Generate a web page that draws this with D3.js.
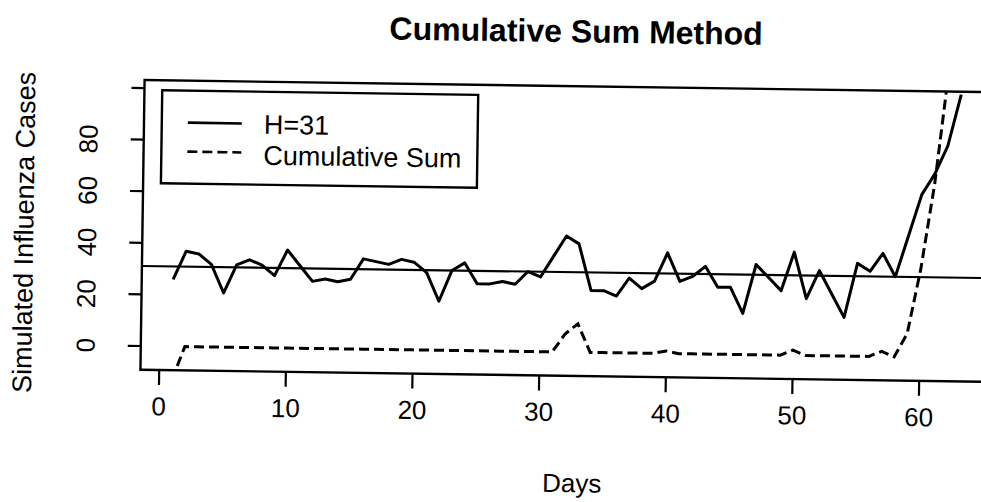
<!DOCTYPE html>
<html>
<head>
<meta charset="utf-8">
<script src="https://cdn.jsdelivr.net/npm/d3@7/dist/d3.min.js"></script>
<style>
body { margin: 0; background: #fff; }
svg { display: block; }
text { font-family: "Liberation Sans", Arial, Helvetica, sans-serif; fill: #000; }
</style>
</head>
<body>
<div id="chart"></div>
<script>
// values
var days = [1, 2, 3, 4, 5, 6, 7, 8, 9, 10, 11, 12, 13, 14, 15, 16, 17, 18, 19, 20,
            21, 22, 23, 24, 25, 26, 27, 28, 29, 30, 31, 32, 33, 34, 35, 36, 37, 38, 39, 40,
            41, 42, 43, 44, 45, 46, 47, 48, 49, 50, 51, 52, 53, 54, 55, 56, 57, 58, 59, 60,
            61, 62, 63];
var cases = [26, 37, 36, 32, 21, 32, 34, 32, 28, 38, 32, 26, 27, 26, 27, 35, 34, 33, 35, 34,
             30, 19, 31, 34, 26, 26, 27, 26, 31, 29, 37, 45, 42, 24, 24, 22, 29, 25, 28, 39,
             28, 30, 34, 26, 26, 16, 35, 30, 25, 40, 22, 33, 24, 15, 36, 33, 40, 31, 47, 63,
             71, 82, 102];
var cusum = [-13, 0, 0, 0, 0, 0, 0, 0, 0, 0, 0, 0, 0, 0, 0, 0, 0, 0, 0, 0,
             0, 0, 0, 0, 0, 0, 0, 0, 0, 0, 0, 7, 11, 0, 0, 0, 0, 0, 0, 1,
             0, 0, 0, 0, 0, 0, 0, 0, 0, 2, 0, 0, 0, 0, 0, 0, 2, 0, 9, 34,
             67, 111, 175];
var hLevel = 31;
var legendLabels = ["H=31", "Cumulative Sum"];
var xTicks = [0, 10, 20, 30, 40, 50, 60];
var yTicks = [0, 20, 40, 60, 80, 100];
var yTickLabels = ["0", "20", "40", "60", "80", ""];

var width = 981, height = 502;

var svg = d3.select("#chart")
    .append("svg")
        .attr("width", width)
        .attr("height", height);

// the scanned page sits slightly tilted
var page = svg.append("g")
    .attr("transform", "rotate(0.82,560,250)");

var x = d3.scaleLinear().domain([-1.48, 65.48]).range([142.2, 990.4]);
var y = d3.scaleLinear().domain([-9.2, 103.1]).range([375.7, 86]);

var plotLeft = x.range()[0], plotRight = x.range()[1];
var plotTop = y.range()[1], plotBottom = y.range()[0];

page.append("defs").append("clipPath")
    .attr("id", "plotclip")
  .append("rect")
    .attr("x", plotLeft)
    .attr("y", plotTop)
    .attr("width", plotRight - plotLeft)
    .attr("height", plotBottom - plotTop);

var plot = page.append("g").attr("clip-path", "url(#plotclip)");

// threshold line
plot.append("line")
    .attr("x1", plotLeft)
    .attr("x2", plotRight)
    .attr("y1", y(hLevel))
    .attr("y2", y(hLevel))
    .attr("stroke", "#000")
    .attr("stroke-width", 2.2);

var line = d3.line()
    .x(function(d) { return x(d[0]); })
    .y(function(d) { return y(d[1]); });

plot.append("path")
    .datum(d3.zip(days, cases))
    .attr("d", line)
    .attr("fill", "none")
    .attr("stroke", "#000")
    .attr("stroke-width", 3)
    .attr("stroke-linejoin", "round");

plot.append("path")
    .datum(d3.zip(days, cusum))
    .attr("d", line)
    .attr("fill", "none")
    .attr("stroke", "#000")
    .attr("stroke-width", 3)
    .attr("stroke-dasharray", "10,5");

// box
page.append("rect")
    .attr("x", plotLeft)
    .attr("y", plotTop)
    .attr("width", plotRight - plotLeft)
    .attr("height", plotBottom - plotTop)
    .attr("fill", "none")
    .attr("stroke", "#000")
    .attr("stroke-width", 2.4);

// y axis
var yAxis = page.append("g");
yAxis.selectAll(".ytick")
    .data(yTicks)
  .enter().append("line")
    .attr("x1", plotLeft - 13)
    .attr("x2", plotLeft)
    .attr("y1", function(d) { return y(d); })
    .attr("y2", function(d) { return y(d); })
    .attr("stroke", "#000")
    .attr("stroke-width", 2.2);
yAxis.selectAll(".ylab")
    .data(yTicks)
  .enter().append("text")
    .attr("transform", function(d) { return "translate(96," + y(d) + ") rotate(-90)"; })
    .attr("text-anchor", "middle")
    .style("font-size", "26px")
    .text(function(d, i) { return yTickLabels[i]; });

// x axis
var xAxis = page.append("g");
xAxis.selectAll(".xtick")
    .data(xTicks)
  .enter().append("line")
    .attr("x1", function(d) { return x(d); })
    .attr("x2", function(d) { return x(d); })
    .attr("y1", plotBottom)
    .attr("y2", plotBottom + 15)
    .attr("stroke", "#000")
    .attr("stroke-width", 2.2);
xAxis.selectAll(".xlab")
    .data(xTicks)
  .enter().append("text")
    .attr("x", function(d) { return x(d); })
    .attr("y", 421)
    .attr("text-anchor", "middle")
    .style("font-size", "26px")
    .text(function(d) { return d; });

// titles
page.append("text")
    .attr("x", 573)
    .attr("y", 42)
    .attr("text-anchor", "middle")
    .style("font-size", "32px")
    .style("font-weight", "bold")
    .text("Cumulative Sum Method");

page.append("text")
    .attr("x", 575)
    .attr("y", 492)
    .attr("text-anchor", "middle")
    .style("font-size", "26px")
    .text("Days");

page.append("text")
    .attr("transform", "translate(33,240) rotate(-90)")
    .attr("text-anchor", "middle")
    .style("font-size", "27px")
    .text("Simulated Influenza Cases");

// legend
var legend = page.append("g");
legend.append("rect")
    .attr("x", 160)
    .attr("y", 96)
    .attr("width", 316)
    .attr("height", 93)
    .attr("fill", "#fff")
    .attr("stroke", "#000")
    .attr("stroke-width", 2.4);

var legendDash = ["none", "10,5"];
legend.selectAll(".legline")
    .data(legendLabels)
  .enter().append("line")
    .attr("x1", 186)
    .attr("x2", 240)
    .attr("y1", function(d, i) { return 128 + i * 29; })
    .attr("y2", function(d, i) { return 128 + i * 29; })
    .attr("stroke", "#000")
    .attr("stroke-width", 2.6)
    .attr("stroke-dasharray", function(d, i) { return legendDash[i]; });

legend.selectAll(".legtext")
    .data(legendLabels)
  .enter().append("text")
    .attr("x", 262)
    .attr("y", function(d, i) { return 138 + i * 31; })
    .style("font-size", "27px")
    .text(function(d) { return d; });
</script>
</body>
</html>
